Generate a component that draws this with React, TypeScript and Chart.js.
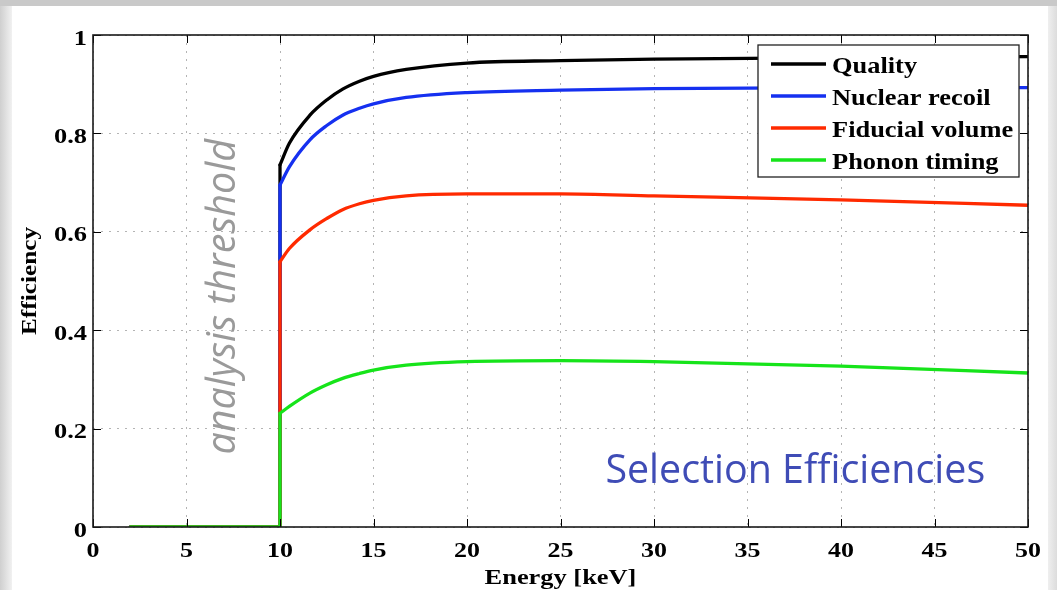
import React, { useEffect, useRef } from "react";
import { Chart, registerables } from "chart.js";

Chart.register(...registerables);

// ---- data ----
const seriesNames = ["Quality", "Nuclear recoil", "Fiducial volume", "Phonon timing"];
const seriesColors = ["#000000", "#1530f0", "#ff2a00", "#16e41a"];
const thresholdEnergy = [2, 10, 10];
const curveEnergy = [10, 10.5, 11.6, 12.5, 13.35, 14.25, 15, 16.75, 20, 25, 30, 40, 50];
const quality = [0.736, 0.78, 0.837, 0.868, 0.89, 0.906, 0.916, 0.93, 0.943, 0.948, 0.951, 0.954, 0.956];
const nuclearRecoil = [0.695, 0.732, 0.787, 0.816, 0.837, 0.851, 0.86, 0.873, 0.883, 0.888, 0.891, 0.893, 0.893];
const fiducialVolume = [0.539, 0.566, 0.604, 0.627, 0.645, 0.657, 0.664, 0.673, 0.677, 0.677, 0.673, 0.665, 0.654];
const phononTiming = [0.231, 0.245, 0.272, 0.289, 0.302, 0.312, 0.319, 0.329, 0.336, 0.338, 0.336, 0.327, 0.313];
const seriesValues = [quality, nuclearRecoil, fiducialVolume, phononTiming];
const xTickValues = [0, 5, 10, 15, 20, 25, 30, 35, 40, 45, 50];
const yTickValues = [0, 0.2, 0.4, 0.6, 0.8, 1];
const xTickLabels = ["0", "5", "10", "15", "20", "25", "30", "35", "40", "45", "50"];
const yTickLabels = ["0", "0.2", "0.4", "0.6", "0.8", "1"];
const xTitle = "Energy [keV]";
const yTitle = "Efficiency";
const thresholdLabel = "analysis threshold";
const panelLabel = "Selection Efficiencies";

const SERIF = "'Liberation Serif', 'Times New Roman', serif";

function stretchedText(
  ctx: CanvasRenderingContext2D,
  text: string,
  x: number,
  y: number,
  font: string,
  sx: number,
  align: CanvasTextAlign,
  baseline: CanvasTextBaseline,
  rotation = 0
) {
  ctx.save();
  ctx.translate(x, y);
  if (rotation) ctx.rotate(rotation);
  ctx.scale(sx, 1);
  ctx.font = font;
  ctx.textAlign = align;
  ctx.textBaseline = baseline;
  ctx.fillText(text, 0, 0);
  ctx.restore();
}

const overlayPlugin = {
  id: "overlay",
  afterDraw(chart: any) {
    const { ctx, chartArea: a, scales } = chart;
    const xs = scales.x;
    const ys = scales.y;
    ctx.save();

    // inner tick marks
    ctx.strokeStyle = "#000";
    ctx.lineWidth = 1;
    const seg = (x1: number, y1: number, x2: number, y2: number) => {
      ctx.beginPath();
      ctx.moveTo(x1, y1);
      ctx.lineTo(x2, y2);
      ctx.stroke();
    };
    xTickValues.forEach((v) => {
      const px = Math.round(xs.getPixelForValue(v)) + 0.5;
      seg(px, a.bottom, px, a.bottom - 8);
      seg(px, a.top, px, a.top + 8);
    });
    yTickValues.forEach((v) => {
      const py = Math.round(ys.getPixelForValue(v)) + 0.5;
      seg(a.left, py, a.left + 8, py);
      seg(a.right, py, a.right - 8, py);
    });

    // box
    ctx.lineWidth = 1.6;
    ctx.strokeStyle = "#1a1a1a";
    ctx.strokeRect(a.left, a.top, a.right - a.left, a.bottom - a.top);

    // tick labels
    ctx.fillStyle = "#000";
    const tf = `bold 22px ${SERIF}`;
    xTickValues.forEach((v, i) => {
      stretchedText(ctx, xTickLabels[i], xs.getPixelForValue(v), a.bottom + 30, tf, 1.18, "center", "alphabetic");
    });
    yTickValues.forEach((v, i) => {
      stretchedText(ctx, yTickLabels[i], a.left - 6, ys.getPixelForValue(v) + 9.5, tf, 1.2, "right", "alphabetic");
    });

    // axis titles
    stretchedText(ctx, xTitle, (a.left + a.right) / 2, 584, `bold 22px ${SERIF}`, 1.2, "center", "alphabetic");
    stretchedText(ctx, yTitle, 36, (a.top + a.bottom) / 2, `bold 22px ${SERIF}`, 1.15, "center", "alphabetic", -Math.PI / 2);

    // analysis threshold label (rotated)
    ctx.save();
    ctx.translate(xs.getPixelForValue(7.6), ys.getPixelForValue(0.468));
    ctx.rotate(-Math.PI / 2);
    ctx.font = "italic 100px 'Open Sans', sans-serif";
    const tw = ctx.measureText(thresholdLabel).width;
    const tSize = (100 * 316) / tw;
    ctx.font = `italic ${tSize.toFixed(1)}px 'Open Sans', sans-serif`;
    ctx.fillStyle = "#9a9a9a";
    ctx.textAlign = "center";
    ctx.textBaseline = "alphabetic";
    ctx.fillText(thresholdLabel, 0, 0);
    ctx.restore();

    // Selection Efficiencies label
    const sx0 = xs.getPixelForValue(27.4);
    const sx1 = xs.getPixelForValue(47.7);
    ctx.font = "100px 'Open Sans', sans-serif";
    const sw = ctx.measureText(panelLabel).width;
    const sSize = (100 * (sx1 - sx0)) / sw;
    ctx.font = `${sSize.toFixed(1)}px 'Open Sans', sans-serif`;
    ctx.fillStyle = "#3f4cb6";
    ctx.textAlign = "left";
    ctx.textBaseline = "alphabetic";
    ctx.fillText(panelLabel, sx0, ys.getPixelForValue(0.089));

    // legend
    const lw = 261;
    const lh = 132;
    const lx = a.right - 9 - lw;
    const ly = a.top + 10;
    ctx.fillStyle = "#ffffff";
    ctx.fillRect(lx, ly, lw, lh);
    ctx.lineWidth = 1.3;
    ctx.strokeStyle = "#222";
    ctx.strokeRect(lx, ly, lw, lh);
    seriesNames.forEach((name, i) => {
      const ry = ly + 19 + i * 32;
      ctx.strokeStyle = seriesColors[i];
      ctx.lineWidth = 3.5;
      seg(lx + 13, ry, lx + 68, ry);
      ctx.fillStyle = "#000";
      stretchedText(ctx, name, lx + 74, ry + 9, `bold 24px ${SERIF}`, 1.1, "left", "alphabetic");
    });

    ctx.restore();
  },
};

function buildDatasets() {
  const ds: any[] = [];
  // draw order: index 0 on top -> phonon first
  for (let i = seriesValues.length - 1; i >= 0; i--) {
    const vals = seriesValues[i];
    ds.push({
      label: seriesNames[i] + " step",
      data: thresholdEnergy.map((x, k) => ({ x, y: k < thresholdEnergy.length - 1 ? 0 : vals[0] })),
      borderColor: seriesColors[i],
      borderWidth: 3.3,
      pointRadius: 0,
      tension: 0,
      borderCapStyle: "round",
      borderJoinStyle: "round",
    });
    ds.push({
      label: seriesNames[i],
      data: curveEnergy.map((x, k) => ({ x, y: vals[k] })),
      borderColor: seriesColors[i],
      borderWidth: 3.3,
      pointRadius: 0,
      cubicInterpolationMode: "monotone",
      borderCapStyle: "round",
      borderJoinStyle: "round",
    });
  }
  return ds;
}

export default function App() {
  const canvasRef = useRef<HTMLCanvasElement | null>(null);

  useEffect(() => {
    if (!canvasRef.current) return;
    const chart = new Chart(canvasRef.current, {
      type: "line",
      data: { datasets: buildDatasets() },
      options: {
        animation: false,
        responsive: false,
        maintainAspectRatio: false,
        devicePixelRatio: 1,
        layout: { padding: { top: 35, right: 29, left: 0, bottom: 0 } },
        plugins: { legend: { display: false }, tooltip: { enabled: false } },
        scales: {
          x: {
            type: "linear",
            min: 0,
            max: 50,
            afterBuildTicks: (s: any) => {
              s.ticks = xTickValues.map((v) => ({ value: v }));
            },
            afterFit: (s: any) => {
              s.height = 63;
            },
            ticks: { display: false, autoSkip: false },
            grid: { color: "#b4b4b4", lineWidth: 1, drawTicks: false },
            border: { display: false, dash: [2, 6] },
          },
          y: {
            type: "linear",
            min: 0,
            max: 1,
            afterBuildTicks: (s: any) => {
              s.ticks = yTickValues.map((v) => ({ value: v }));
            },
            afterFit: (s: any) => {
              s.width = 93;
            },
            ticks: { display: false, autoSkip: false },
            grid: { color: "#b4b4b4", lineWidth: 1, drawTicks: false },
            border: { display: false, dash: [2, 6] },
          },
        },
      },
      plugins: [overlayPlugin],
    } as any);
    return () => chart.destroy();
  }, []);

  return (
    <div
      style={{
        position: "fixed",
        left: 0,
        top: 0,
        width: 1057,
        height: 590,
        background: "#c9c9c9",
        overflow: "hidden",
      }}
    >
      <div
        style={{
          position: "absolute",
          left: 0,
          top: 6,
          width: 12,
          height: 584,
          background: "linear-gradient(to right, #cfcfcf, #f1f1f1)",
        }}
      />
      <div
        style={{
          position: "absolute",
          left: 12,
          top: 6,
          width: 1036,
          height: 584,
          background: "#ffffff",
        }}
      />
      <div
        style={{
          position: "absolute",
          left: 1048,
          top: 6,
          width: 9,
          height: 584,
          background: "linear-gradient(to right, #efefef, #dcdcdc)",
        }}
      />
      <canvas
        ref={canvasRef}
        width={1057}
        height={590}
        style={{ position: "absolute", left: 0, top: 0, width: 1057, height: 590 }}
      />
    </div>
  );
}
